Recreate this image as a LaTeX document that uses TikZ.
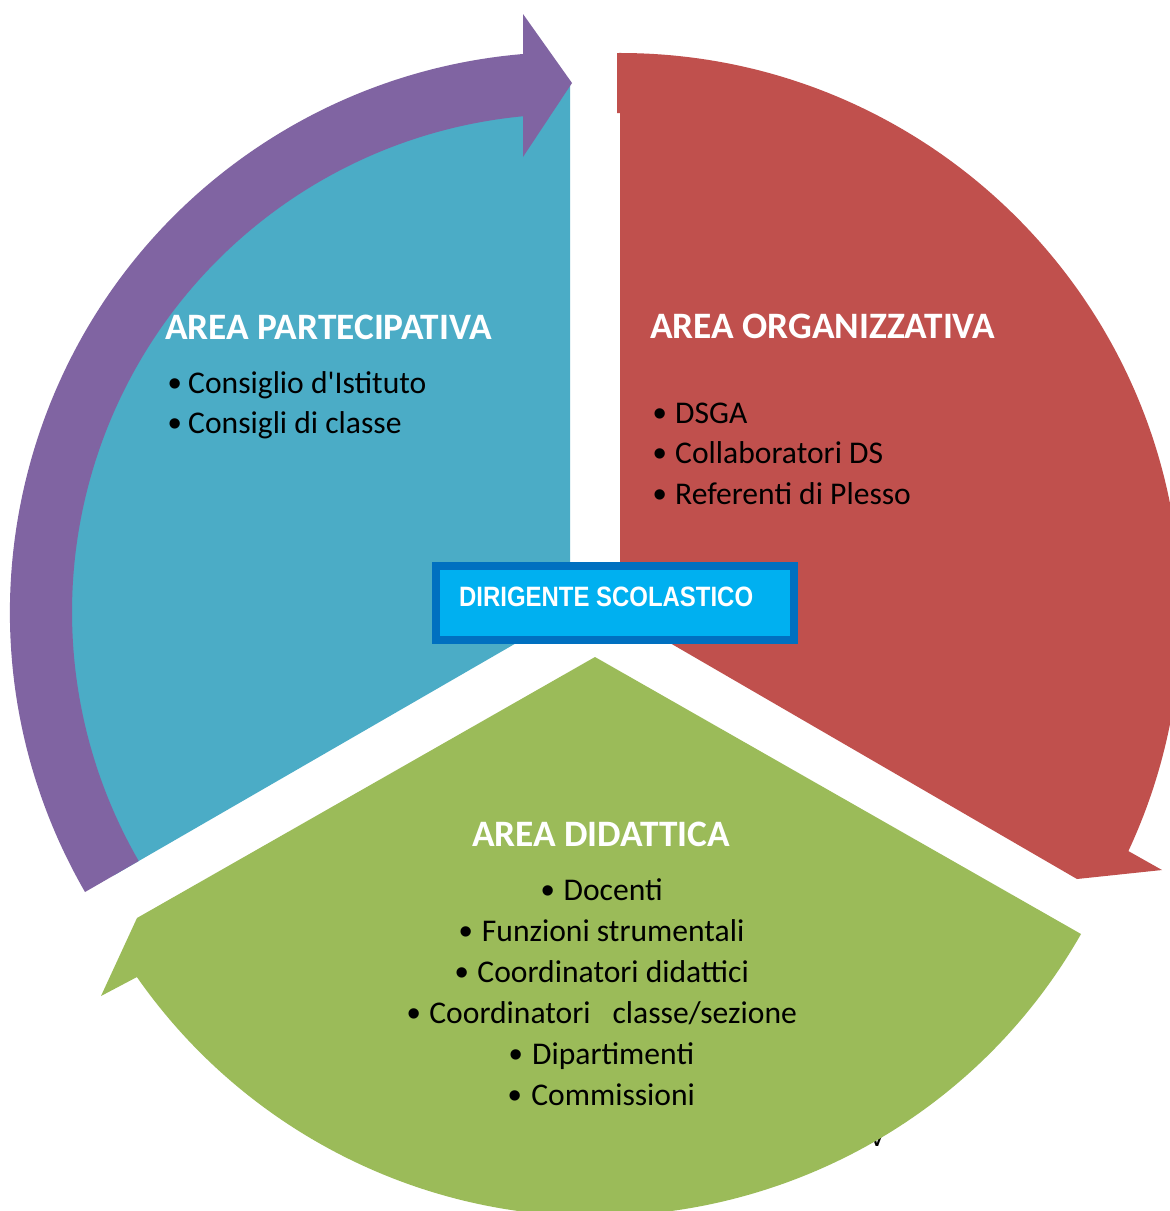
\documentclass[tikz,border=0pt]{standalone}
\usepackage{graphicx}
\usepackage{fontspec}
\setmainfont{Carlito}
\newfontfamily\dsfont{Liberation Sans}
\definecolor{cblue}{HTML}{4BACC6}
\definecolor{cpurple}{HTML}{8064A2}
\definecolor{cred}{HTML}{C0504D}
\definecolor{cgreen}{HTML}{9BBB59}
\definecolor{dsfill}{HTML}{00B0F0}
\definecolor{dsborder}{HTML}{0070C0}
\newcommand\bdot{\raisebox{-3pt}{\dsfont\fontsize{38}{40}\selectfont\textbullet}}
\newcommand\bulA{\makebox[20pt][l]{\bdot}}
\newcommand\bulB{\makebox[22pt][l]{\bdot}}
\begin{document}
\begin{tikzpicture}[x=1pt,y=1pt,
  areatitle/.style={anchor=base west, inner sep=0pt, text=white, font=\fontsize{37.3}{43}\selectfont\bfseries},
  item/.style={anchor=base west, inner sep=0pt, text=black, font=\fontsize{31.6}{38}\selectfont},
  citem/.style={anchor=base, inner sep=0pt, text=black, font=\fontsize{31.6}{38}\selectfont}]
\clip (0,0) rectangle (1170,-1211);
\fill[white] (0,0) rectangle (1170,-1211);

% blue sector
\begin{scope}[shift={(570,-612)}]
\fill[cblue] (0,0) -- (90:527) arc[start angle=90,end angle=210,radius=527pt] -- cycle;
% purple circular arrow
\fill[cpurple] (210:560) arc[start angle=210,end angle=94.8,radius=560pt]
  -- (-47,598) -- (2,529) -- (-47,455) -- (95.4:498)
  arc[start angle=95.4,end angle=210,radius=498pt] -- cycle;
\end{scope}

% red sector with arrow
\begin{scope}[shift={(620,-614)}]
\fill[cred] (0,0) -- (0,501) -- (-3,501) -- (-3,561)
  arc[start angle=90.3,end angle=-25,radius=561pt]
  -- (542,-256) -- (457,-265) -- cycle;
\end{scope}

% stray glyph behind green
\node[citem] (stray) at (877,-1146) {v};

% green sector with arrow
\begin{scope}[shift={(595,-657)}]
\fill[cgreen] (0,0) -- (486,-277)
  arc[start angle=-29.68,end angle=-145.1,radius=559pt]
  -- (-494,-339) -- (-458,-261) -- cycle;
\end{scope}

% titles
\node[areatitle] (tpart) at (165,-339) {AREA PARTECIPATIVA};
\node[areatitle] (torg) at (650,-338) {AREA ORGANIZZATIVA};
\node[areatitle, anchor=base] (tdid) at (601,-846) {AREA DIDATTICA};

% partecipativa items
\node[item] (p1) at (168,-393) {\bulA Consiglio d\textquotesingle Istituto};
\node[item] (p2) at (168,-433) {\bulA Consigli di classe};

% organizzativa items
\node[item] (o1) at (653,-423) {\bulB DSGA};
\node[item] (o2) at (653,-463) {\bulB Collaboratori DS};
\node[item] (o3) at (653,-504) {\bulB Referenti di Plesso};

% didattica items
\node[citem] (d1) at (602,-900) {\bdot\hspace{9pt}Docenti};
\node[citem] (d2) at (602,-941) {\bdot\hspace{9pt}Funzioni strumentali};
\node[citem] (d3) at (602,-982) {\bdot\hspace{9pt}Coordinatori didattici};
\node[citem] (d4) at (602,-1023) {\bdot\hspace{9pt}Coordinatori\hspace{22pt}classe/sezione};
\node[citem] (d5) at (602,-1064) {\bdot\hspace{9pt}Dipartimenti};
\node[citem] (d6) at (602,-1105) {\bdot\hspace{9pt}Commissioni};

% central box
\node[draw=dsborder, line width=8pt, fill=dsfill, minimum width=358pt, minimum height=74pt, inner sep=0pt] (ds) at (615,-603) {};
\node[anchor=base west, inner sep=0pt, text=white, font=\dsfont\bfseries\fontsize{28}{34}\selectfont] (dstext) at (459,-606) {\scalebox{0.855}[1]{DIRIGENTE SCOLASTICO}};
\end{tikzpicture}
\end{document}
